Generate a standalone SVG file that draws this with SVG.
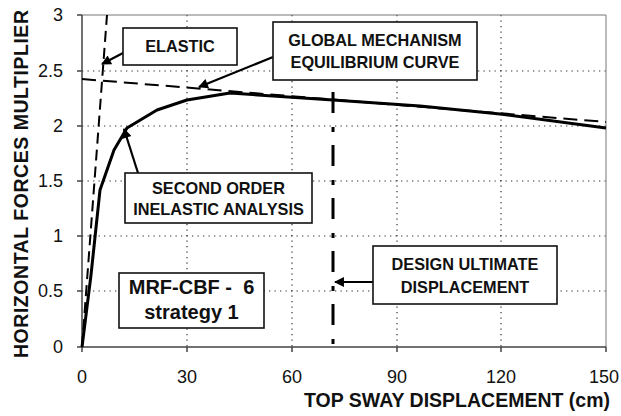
<svg xmlns="http://www.w3.org/2000/svg" width="621" height="416" viewBox="0 0 621 416">
<defs>
<style>
.grid{stroke:#333;stroke-width:1.2;stroke-dasharray:1.3 4.2;fill:none}
.axis{stroke:#444;stroke-width:1.5;fill:none}
.border{stroke:#777;stroke-width:1;fill:none}
.tick{font-family:"Liberation Sans",Arial,sans-serif;font-size:18px;fill:#111}
.title{font-family:"Liberation Sans",Arial,sans-serif;font-weight:bold;fill:#111}
.box{fill:#fff;stroke:#111;stroke-width:1.6}
.lbl{font-family:"Liberation Sans",Arial,sans-serif;font-weight:bold;fill:#111;text-anchor:middle}
.s16{font-size:16.3px}
.s20{font-size:20px}
.arrow{stroke:#000;stroke-width:2.2;fill:none;marker-end:url(#ah)}
</style>
<marker id="ah" viewBox="0 0 10 10" refX="9" refY="5" markerWidth="5" markerHeight="4.5" orient="auto" markerUnits="strokeWidth">
<path d="M0,0 L10,5 L0,10 z" fill="#000"/>
</marker>
</defs>
<rect width="621" height="416" fill="#fff"/>
<g id="grid">
<line class="grid" x1="187" y1="15" x2="187" y2="347"/>
<line class="grid" x1="292" y1="15" x2="292" y2="347"/>
<line class="grid" x1="397" y1="15" x2="397" y2="347"/>
<line class="grid" x1="501" y1="15" x2="501" y2="347"/>
<line class="grid" x1="82" y1="71" x2="606" y2="71"/>
<line class="grid" x1="82" y1="126" x2="606" y2="126"/>
<line class="grid" x1="82" y1="181" x2="606" y2="181"/>
<line class="grid" x1="82" y1="236" x2="606" y2="236"/>
<line class="grid" x1="82" y1="291" x2="606" y2="291"/>
</g>
<g id="axes">
<path class="border" d="M82,15 H606 V347"/>
<path class="axis" d="M82,15 V347 H606"/>
<path class="axis" d="M77,15 H82 M77,71 H82 M77,126 H82 M77,181 H82 M77,236 H82 M77,291 H82 M77,347 H82 M82,347 V352 M187,347 V352 M292,347 V352 M397,347 V352 M501,347 V352 M606,347 V352"/>
<g class="tick" text-anchor="end">
<text x="63" y="21">3</text>
<text x="63" y="77">2.5</text>
<text x="63" y="132">2</text>
<text x="63" y="187">1.5</text>
<text x="63" y="242">1</text>
<text x="63" y="297">0.5</text>
<text x="63" y="353">0</text>
</g>
<g class="tick" text-anchor="middle">
<text x="82" y="383">0</text>
<text x="187" y="383">30</text>
<text x="292" y="383">60</text>
<text x="397" y="383">90</text>
<text x="501" y="383">120</text>
<text x="604" y="383">150</text>
</g>
<text class="title" x="610" y="407" font-size="19.5" text-anchor="end">TOP SWAY DISPLACEMENT (cm)</text>
<text class="title" transform="translate(28,184) rotate(-90)" font-size="19.5" text-anchor="middle" textLength="348" lengthAdjust="spacing">HORIZONTAL FORCES MULTIPLIER</text>
</g>
<g id="curves">
<line x1="82" y1="347" x2="107" y2="15" stroke="#000" stroke-width="2" stroke-dasharray="11 6"/>
<line x1="82" y1="79" x2="606" y2="122" stroke="#000" stroke-width="2" stroke-dasharray="14 7"/>
<polyline points="82,347 91,275 100,190 114,150 127,128 157,110 187,100 230,93 333,100 420,106 500,114 606,128" fill="none" stroke="#000" stroke-width="3" stroke-linejoin="round"/>
<line x1="333" y1="92" x2="333" y2="347" stroke="#000" stroke-width="3" stroke-dasharray="21 14 5 13"/>
</g>
<g id="connectors">
<line class="arrow" x1="123" y1="53" x2="102" y2="64"/>
<line class="arrow" x1="273" y1="57" x2="199" y2="87"/>
<line class="arrow" x1="138" y1="173" x2="124" y2="129"/>
<line class="arrow" x1="373" y1="282" x2="335" y2="282"/>
</g>
<g id="elastic">
<rect class="box" x="123" y="28" width="114" height="37"/>
<text class="lbl s16" x="180" y="52">ELASTIC</text>
</g>
<g id="global-mechanism">
<rect class="box" x="273" y="22" width="204" height="58"/>
<text class="lbl s16" x="375" y="46">GLOBAL MECHANISM</text>
<text class="lbl s16" x="375" y="68">EQUILIBRIUM CURVE</text>
</g>
<g id="second-order">
<rect class="box" x="125" y="173" width="187" height="50"/>
<text class="lbl s16" x="218.5" y="194">SECOND ORDER</text>
<text class="lbl s16" x="218.5" y="215">INELASTIC ANALYSIS</text>
</g>
<g id="design-ultimate">
<rect class="box" x="373" y="246" width="184" height="58"/>
<text class="lbl s16" x="465" y="270">DESIGN ULTIMATE</text>
<text class="lbl s16" x="465" y="293">DISPLACEMENT</text>
</g>
<g id="mrf-cbf">
<rect class="box" x="119" y="273" width="145" height="55"/>
<text class="lbl s20" x="191.5" y="294" style="white-space:pre" xml:space="preserve">MRF-CBF -  6</text>
<text class="lbl s20" x="191.5" y="319">strategy 1</text>
</g>
</svg>
